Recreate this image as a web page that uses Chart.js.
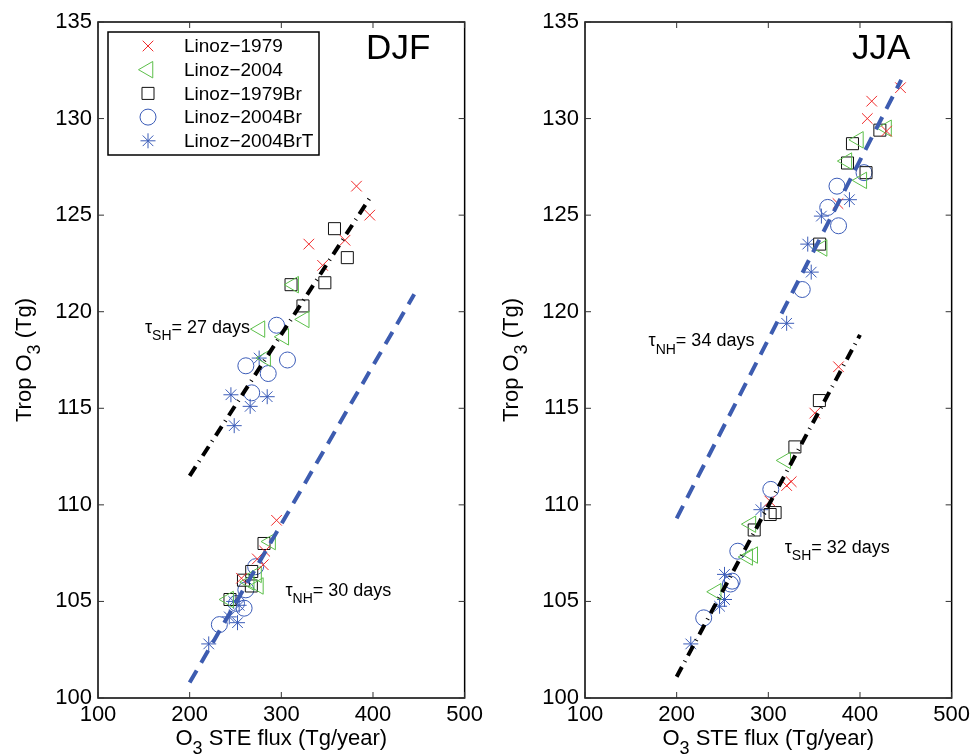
<!DOCTYPE html>
<html>
<head>
<meta charset="utf-8">
<script src="https://cdn.jsdelivr.net/npm/chart.js@4.4.0/dist/chart.umd.min.js"></script>
<style>
  body { margin: 0; background: #fff; }
  #wrap { position: relative; width: 974px; height: 754px; }
  canvas { position: absolute; top: 0; }
</style>
</head>
<body>
<div id="wrap">
  <canvas id="djf" width="487" height="754" style="left:0"></canvas>
  <canvas id="jja" width="487" height="754" style="left:487px"></canvas>
</div>
<script>
// [STE flux (Tg/year), trop O3 (Tg)]
const djf1979 = [[382,126.5],[396.5,125.0],[330,123.5],[369.5,123.7],[345,122.4],[294.8,109.2],[281.9,107.6],[273.8,107.2],[280.3,106.9],[256.5,106.2]];
const djf2004 = [[313.5,121.4],[325,119.6],[276.7,119.1],[302.7,118.7],[282.9,117.6],[288.3,108.1],[273,106.4],[275,105.8],[265,106.0],[242.5,105.1]];
const djf1979Br = [[358,124.3],[372,122.8],[347.5,121.5],[310.6,121.4],[323.6,120.3],[281.1,108.0],[267.7,106.55],[258.7,106.1],[267.3,105.8],[244,105.1]];
const djf2004Br = [[294.8,119.3],[306.7,117.5],[261.3,117.2],[285.7,116.8],[267.7,115.8],[232.4,103.8],[259.4,104.65],[251.1,104.9],[261.3,105.6],[272,106.8]];
const djf2004BrT = [[275.8,117.6],[245,115.7],[266,115.1],[284.6,115.6],[248.6,114.1],[220.8,102.8],[243.2,104.2],[252.2,103.9],[254,104.8],[248,105.0]];

const jja1979 = [[444.2,131.6],[412.8,130.9],[408,130.0],[429,129.35],[376,125.6],[376.6,117.15],[350.7,114.75],[325,111.2],[320,111.0],[301.6,110.2]];
const jja2004 = [[429,129.5],[398.3,128.9],[385.7,127.8],[402,126.8],[358.7,123.3],[319,112.3],[281,109.0],[277.5,107.3],[283,107.4],[243.2,105.5]];
const jja1979Br = [[421.7,129.4],[391.8,128.7],[386.4,127.7],[406.6,127.2],[356,123.5],[355.7,115.4],[329,113.0],[307.4,109.6],[302,109.5],[284.6,108.7]];
const jja2004Br = [[404.4,127.2],[374.9,126.5],[364.8,125.4],[376.6,124.45],[337,121.15],[302.7,110.8],[266.7,107.6],[260.5,106.05],[258.7,105.9],[229.5,104.15]];
const jja2004BrT = [[388.5,125.8],[357.9,124.95],[343,123.5],[346.8,122.05],[320,119.4],[291.9,109.75],[252.2,106.4],[252.2,105.1],[246.8,104.75],[215.4,102.8]];

// regression lines (end points)
const djfFitSH = [[200,111.5],[398,126.0]];
const djfFitNH = [[200,100.8],[445,120.9]];
const jjaFitNH = [[200,109.3],[445,132.0]];
const jjaFitSH = [[200,101.1],[400,118.8]];

const seriesNames = ["Linoz\u22121979", "Linoz\u22122004", "Linoz\u22121979Br", "Linoz\u22122004Br", "Linoz\u22122004BrT"];
const xTicks = [100, 200, 300, 400, 500];
const yTicks = [100, 105, 110, 115, 120, 125, 130, 135];

const RED = "#f02a2a", GREEN = "#5cbf4a", BLUE = "#3b5cb8", LINEBLUE = "#3d5cb0";
const FONT = "'Liberation Sans', Arial, sans-serif";

const styles = [
  { pointStyle: "crossRot", pointRadius: 7.5, borderColor: RED, pointRotation: 0 },
  { pointStyle: "triangle", pointRadius: 9.5, borderColor: GREEN, pointRotation: 270 },
  { pointStyle: "rect", pointRadius: 8.5, borderColor: "#111", pointRotation: 0 },
  { pointStyle: "circle", pointRadius: 8, borderColor: BLUE, pointRotation: 0 },
  { pointStyle: "star", pointRadius: 7.5, borderColor: BLUE, pointRotation: 0 },
];

const toXY = (arr) => arr.map((p) => ({ x: p[0], y: p[1] }));

function fitLine(pts, kind) {
  const black = kind === "dashdot";
  return {
    type: "line",
    data: toXY(pts),
    borderColor: black ? "#000" : LINEBLUE,
    borderWidth: 4,
    borderDash: black ? [11, 6, 1, 6] : [14, 9],
    pointRadius: 0,
    fill: false,
    tension: 0,
  };
}

// draws a string made of normal and subscript parts
function drawRich(ctx, x, y, parts, size) {
  let cx = x;
  parts.forEach((p) => {
    const fs = p.sub ? Math.round(size * 0.8) : size;
    ctx.font = fs + "px " + FONT;
    ctx.fillText(p.t, cx, y + (p.sub ? size * 0.4 : 0));
    cx += ctx.measureText(p.t).width;
  });
  return cx;
}

function measureRich(ctx, parts, size) {
  let w = 0;
  parts.forEach((p) => {
    ctx.font = (p.sub ? Math.round(size * 0.8) : size) + "px " + FONT;
    w += ctx.measureText(p.t).width;
  });
  return w;
}

const framePlugin = {
  id: "frame",
  afterDraw(chart, args, opts) {
    const { ctx, chartArea: a, scales } = chart;
    ctx.save();
    ctx.strokeStyle = "#000";
    ctx.lineWidth = 1.5;
    ctx.strokeRect(a.left, a.top, a.right - a.left, a.bottom - a.top);
    ctx.lineWidth = 1;
    ctx.strokeStyle = "#333";
    ctx.beginPath();
    xTicks.forEach((v) => {
      const px = scales.x.getPixelForValue(v);
      ctx.moveTo(px, a.bottom); ctx.lineTo(px, a.bottom - 6);
      ctx.moveTo(px, a.top); ctx.lineTo(px, a.top + 6);
    });
    yTicks.forEach((v) => {
      const py = scales.y.getPixelForValue(v);
      ctx.moveTo(a.left, py); ctx.lineTo(a.left + 6, py);
      ctx.moveTo(a.right, py); ctx.lineTo(a.right - 6, py);
    });
    ctx.stroke();

    // axis titles
    ctx.fillStyle = "#000";
    ctx.textBaseline = "alphabetic";
    const xt = [{ t: "O" }, { t: "3", sub: true }, { t: " STE flux (Tg/year)" }];
    const xw = measureRich(ctx, xt, 22);
    drawRich(ctx, (a.left + a.right) / 2 - xw / 2, 745, xt, 22);
    const yt = [{ t: "Trop O" }, { t: "3", sub: true }, { t: " (Tg)" }];
    const yw = measureRich(ctx, yt, 22);
    ctx.save();
    ctx.translate(31, (a.top + a.bottom) / 2);
    ctx.rotate(-Math.PI / 2);
    drawRich(ctx, -yw / 2, 0, yt, 22);
    ctx.restore();

    // season label and lifetime labels
    ctx.font = "35px " + FONT;
    ctx.fillText(opts.season, scales.x.getPixelForValue(opts.seasonAt[0]), scales.y.getPixelForValue(opts.seasonAt[1]));
    opts.notes.forEach((n) => {
      drawRich(ctx, scales.x.getPixelForValue(n.at[0]), scales.y.getPixelForValue(n.at[1]),
        [{ t: "\u03c4" }, { t: n.sub, sub: true }, { t: "= " + n.text }], 18);
    });

    // legend box
    if (opts.legend) {
      const bx = a.left + 10, by = a.top + 10, bw = 211, bh = 123;
      ctx.fillStyle = "#fff";
      ctx.fillRect(bx, by, bw, bh);
      ctx.lineWidth = 1.5;
      ctx.strokeStyle = "#000";
      ctx.strokeRect(bx, by, bw, bh);
      seriesNames.forEach((name, i) => {
        const s = styles[i];
        const yy = by + 14 + i * 23.7;
        ctx.lineWidth = 1;
        ctx.strokeStyle = s.borderColor;
        ctx.fillStyle = "rgba(0,0,0,0)";
        Chart.helpers.drawPoint(ctx, { pointStyle: s.pointStyle, radius: s.pointRadius, rotation: s.pointRotation, borderWidth: 1 }, bx + 40, yy);
        ctx.fillStyle = "#000";
        ctx.font = "19px " + FONT;
        ctx.textBaseline = "middle";
        ctx.fillText(name, bx + 76, yy + 1);
      });
    }
    ctx.restore();
  },
};

function makeChart(id, series, fits, frameOpts) {
  const datasets = [];
  fits.forEach((f) => datasets.push(fitLine(f[0], f[1])));
  series.forEach((arr, i) => {
    datasets.push({
      type: "scatter",
      label: seriesNames[i],
      data: toXY(arr),
      backgroundColor: "rgba(0,0,0,0)",
      borderWidth: 1,
      ...styles[i],
    });
  });
  return new Chart(document.getElementById(id), {
    type: "scatter",
    data: { datasets },
    plugins: [framePlugin],
    options: {
      responsive: false,
      animation: false,
      devicePixelRatio: 1,
      layout: { padding: { top: 22, right: 20, left: 0, bottom: 0 } },
      plugins: { legend: { display: false }, tooltip: { enabled: false }, frame: frameOpts },
      scales: {
        x: {
          type: "linear", min: 100, max: 500,
          grid: { display: false, drawTicks: false },
          border: { display: false },
          ticks: { stepSize: 100, color: "#000", padding: 4, font: { family: FONT, size: 22 } },
          afterFit: (s) => { s.height = 56; },
        },
        y: {
          type: "linear", min: 100, max: 135,
          grid: { display: false, drawTicks: false },
          border: { display: false },
          ticks: { stepSize: 5, color: "#000", padding: 6, font: { family: FONT, size: 22 } },
          afterFit: (s) => { s.width = 98; },
        },
      },
    },
  });
}

makeChart("djf", [djf1979, djf2004, djf1979Br, djf2004Br, djf2004BrT],
  [[djfFitSH, "dashdot"], [djfFitNH, "dash"]],
  {
    legend: true, season: "DJF", seasonAt: [392.5, 133.1],
    notes: [{ sub: "SH", text: "27 days", at: [151.2, 118.9] }, { sub: "NH", text: "30 days", at: [304.5, 105.3] }],
  });

makeChart("jja", [jja1979, jja2004, jja1979Br, jja2004Br, jja2004BrT],
  [[jjaFitNH, "dash"], [jjaFitSH, "dashdot"]],
  {
    legend: false, season: "JJA", seasonAt: [391.4, 133.1],
    notes: [{ sub: "NH", text: "34 days", at: [169.3, 118.2] }, { sub: "SH", text: "32 days", at: [317.9, 107.5] }],
  });
</script>
</body>
</html>
